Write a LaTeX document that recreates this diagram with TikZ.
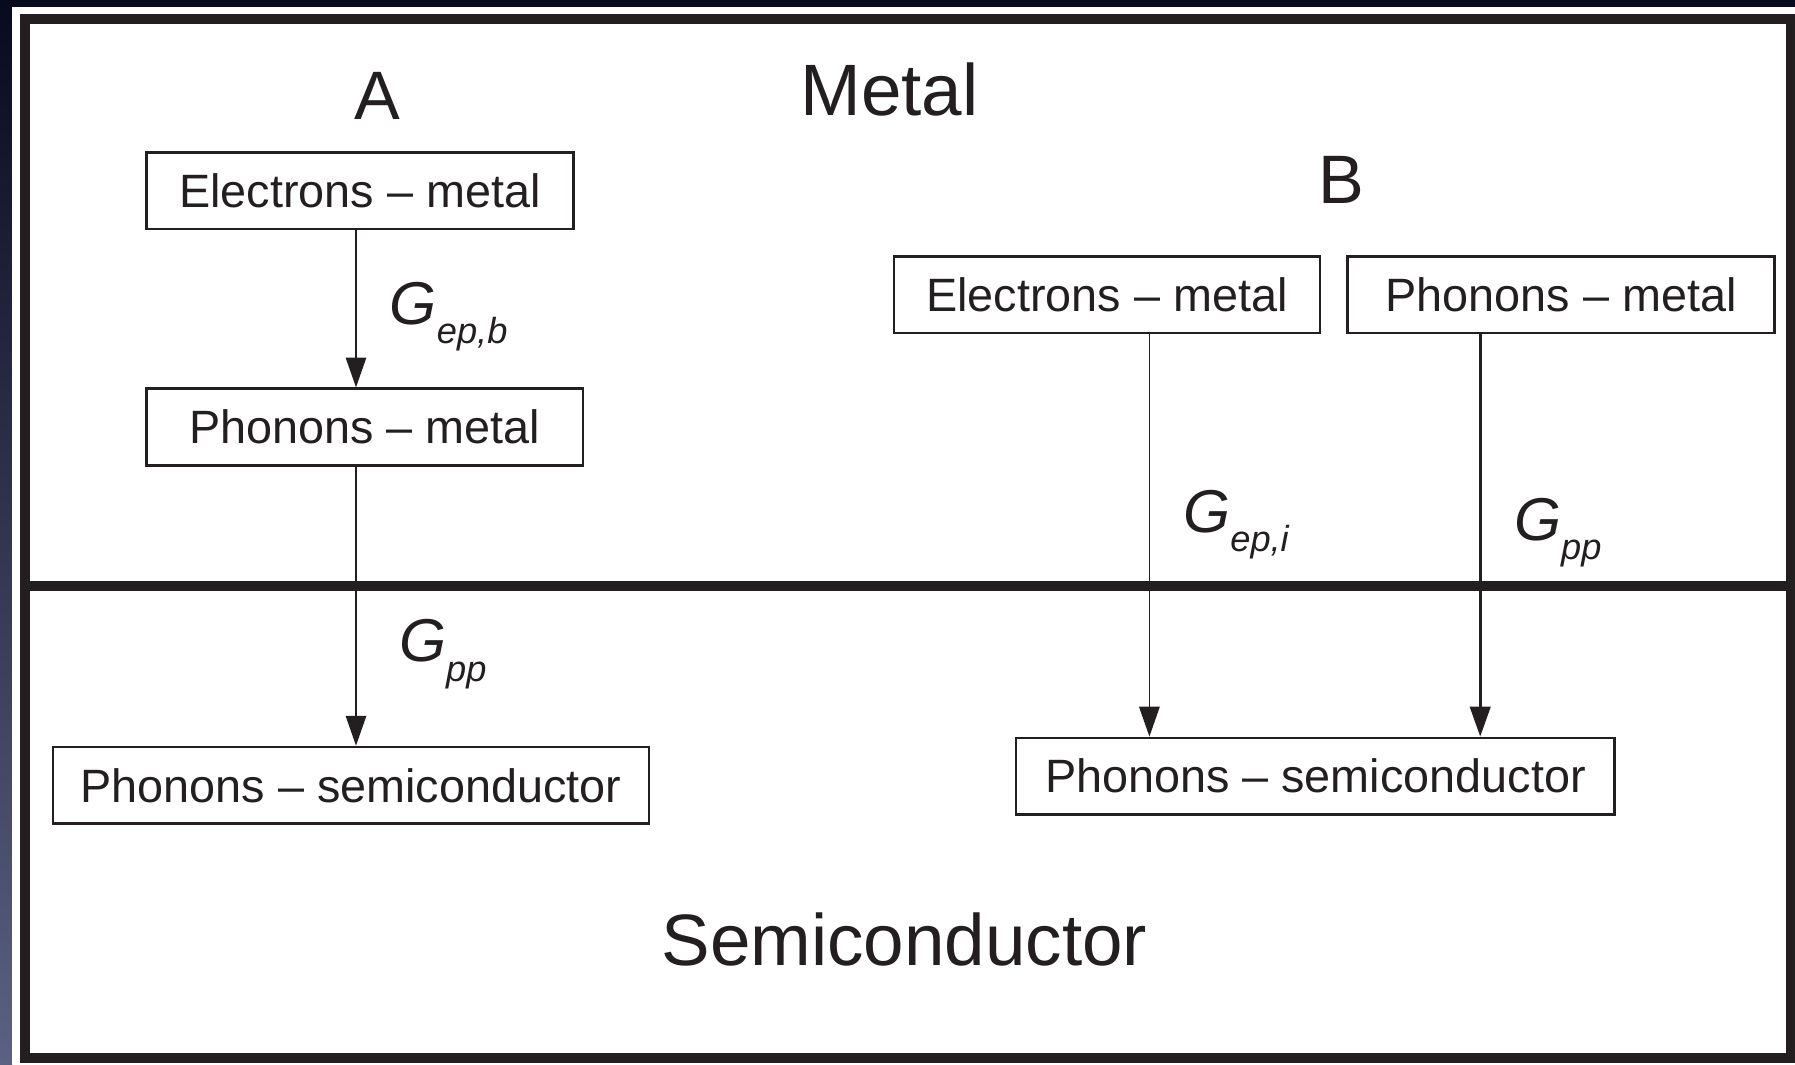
\documentclass[tikz,border=0pt]{standalone}
\usepackage{fontspec}
\setmainfont{Liberation Sans}
\usetikzlibrary{arrows.meta}
\definecolor{ink}{HTML}{231F20}
\definecolor{navy}{HTML}{080A1E}
\definecolor{slate}{HTML}{5C6082}
\newcommand{\subsz}{\fontsize{10.3}{12}\selectfont}
\newcommand{\gsub}[1]{G\raisebox{-5.5pt}{\subsz #1}}

\begin{document}
\begin{tikzpicture}[x=0.01cm,y=-0.01cm,
  box/.style={draw=ink,line width=0.7pt,minimum height=0.767cm,inner sep=0pt,text=ink,font=\fontsize{13.3}{16}\selectfont},
  conn/.style={draw=ink,line width=0.5pt,-{Triangle[length=8.5pt,width=5.8pt]}},
  glab/.style={anchor=base west,inner sep=0pt,text=ink,font=\fontsize{17.2}{20}\selectfont\itshape},
  big/.style={anchor=base,inner sep=0pt,text=ink,font=\fontsize{20.7}{24}\selectfont}]
  \useasboundingbox (0,0) rectangle (1795,1064);
  % 底色与外框
  \fill[navy] (0,0) rectangle (1795,1064);
  \shade[top color=navy,bottom color=slate] (0,0) rectangle (12,1064);
  \fill[white] (12,7) rectangle (1795,1064);
  \draw[ink,line width=3.1pt] (25,19) rectangle (1791,1058);
  \draw[ink,line width=2.8pt] (25,586) -- (1791,586);
  % 标题
  \node[big] (metal) at (889.5,115.6) {Metal};
  \node[big] (semi) at (904.4,965) {Semiconductor};
  \node[big,font=\fontsize{19.5}{22}\selectfont] (capa) at (377.8,120) {A};
  \node[big,font=\fontsize{19.5}{22}\selectfont] (capb) at (1341.7,203.8) {B};
  % A 路径
  \node[box,minimum width=4.27cm] (e1) at (360,190.7) {Electrons – metal};
  \node[box,minimum width=4.36cm] (p1) at (364.6,427) {Phonons – metal};
  \node[box,minimum width=5.96cm] (s1) at (351,785.3) {Phonons – semiconductor};
  % B 路径
  \node[box,minimum width=4.26cm] (e2) at (1107,294.8) {Electrons – metal};
  \node[box,minimum width=4.27cm] (p2) at (1561,294.8) {Phonons – metal};
  \node[box,minimum width=5.98cm] (s2) at (1315.4,776.2) {Phonons – semiconductor};
  % 箭头
  \coordinate (xa) at (356,0);
  \coordinate (xb) at (1149.4,0);
  \coordinate (xc) at (1480.2,0);
  \draw[conn] (e1.south -| xa) -- (p1.north -| xa);
  \draw[conn] (p1.south -| xa) -- (s1.north -| xa);
  \draw[conn] (e2.south -| xb) -- (s2.north -| xb);
  \draw[conn,line width=0.8pt] (p2.south -| xc) -- (s2.north -| xc);
  \node[glab] (gepb) at (389.2,324) {\gsub{ep,b}};
  \node[glab] (gppa) at (398.4,661.7) {\gsub{pp}};
  \node[glab] (gepi) at (1182.6,532.3) {\gsub{ep,i}};
  \node[glab] (gppb) at (1513.4,540.3) {\gsub{pp}};
\end{tikzpicture}
\end{document}
